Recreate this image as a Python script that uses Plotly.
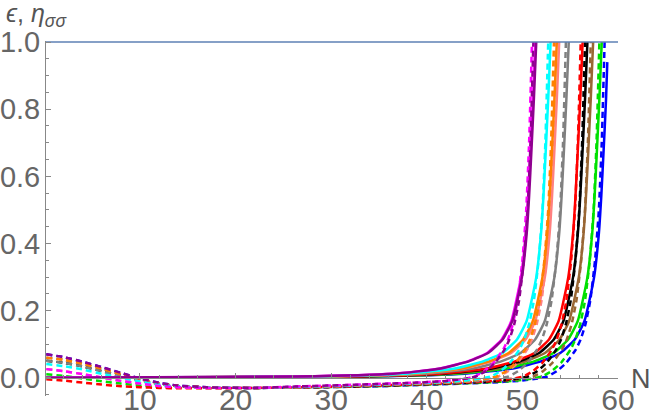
import plotly.graph_objects as go

# horizontal reference line at 1
one_n = [0.17, 60]
one_y = [1.0, 1.0]

# epsilon (solid) values, shared profile
eps_vals = [0.0, 0.002, 0.004, 0.012, 0.028, 0.05, 0.075, 0.115, 0.17, 0.3, 0.43, 0.54, 0.68, 0.83, 1.0]
eps_vals_blue = [0.0, 0.002, 0.004, 0.012, 0.028, 0.05, 0.075, 0.115, 0.17, 0.3, 0.43, 0.54, 0.68, 0.83, 0.94]

eps_n_purple = [0.2, 11.45, 26.45, 36.45, 41.45, 44.45, 46.45, 47.95, 48.95, 49.95, 50.45, 50.7, 50.95, 51.2, 51.45]
eps_n_magenta = [0.2, 11.35, 26.35, 36.35, 41.35, 44.35, 46.35, 47.85, 48.85, 49.85, 50.35, 50.6, 50.85, 51.1, 51.35]
eps_n_cyan = [0.2, 12.95, 27.95, 37.95, 42.95, 45.95, 47.95, 49.45, 50.45, 51.45, 51.95, 52.2, 52.45, 52.7, 52.95]
eps_n_orange = [0.2, 13.6, 28.6, 38.6, 43.6, 46.6, 48.6, 50.1, 51.1, 52.1, 52.6, 52.85, 53.1, 53.35, 53.6]
eps_n_pink = [0.2, 13.85, 28.85, 38.85, 43.85, 46.85, 48.85, 50.35, 51.35, 52.35, 52.85, 53.1, 53.35, 53.6, 53.85]
eps_n_gray = [0.2, 14.85, 29.85, 39.85, 44.85, 47.85, 49.85, 51.35, 52.35, 53.35, 53.85, 54.1, 54.35, 54.6, 54.85]
eps_n_red = [0.2, 16.3, 31.3, 41.3, 46.3, 49.3, 51.3, 52.8, 53.8, 54.8, 55.3, 55.55, 55.8, 56.05, 56.3]
eps_n_black = [0.2, 16.8, 31.8, 41.8, 46.8, 49.8, 51.8, 53.3, 54.3, 55.3, 55.8, 56.05, 56.3, 56.55, 56.8]
eps_n_brown = [0.2, 17.4, 32.4, 42.4, 47.4, 50.4, 52.4, 53.9, 54.9, 55.9, 56.4, 56.65, 56.9, 57.15, 57.4]
eps_n_green = [0.2, 18.3, 33.3, 43.3, 48.3, 51.3, 53.3, 54.8, 55.8, 56.8, 57.3, 57.55, 57.8, 58.05, 58.3]
eps_n_blue = [0.2, 19.0, 34.0, 44.0, 49.0, 52.0, 54.0, 55.5, 56.5, 57.5, 58.0, 58.25, 58.5, 58.75, 58.88]

# eta_sigma sigma (dashed): early part, then the rise
eta_n_early = [0.2, 2, 4, 6, 8, 10, 12, 14, 17, 22]
eta_early_a = [0.070, 0.062, 0.048, 0.032, 0.015, -0.002, -0.015, -0.023, -0.028, -0.030]
eta_early_b = [0.060, 0.054, 0.042, 0.027, 0.011, -0.004, -0.016, -0.024, -0.028, -0.030]
eta_early_c = [0.051, 0.045, 0.034, 0.020, 0.006, -0.007, -0.018, -0.025, -0.029, -0.030]
eta_early_d = [0.041, 0.035, 0.025, 0.012, 0.000, -0.011, -0.020, -0.026, -0.029, -0.030]
eta_early_e = [0.026, 0.020, 0.011, 0.001, -0.009, -0.017, -0.024, -0.028, -0.030, -0.030]
eta_early_f = [0.011, 0.006, -0.002, -0.010, -0.017, -0.023, -0.027, -0.029, -0.030, -0.030]
eta_early_g = [-0.004, -0.008, -0.014, -0.020, -0.025, -0.028, -0.030, -0.031, -0.031, -0.030]

eta_rise = [-0.026, -0.020, -0.014, -0.009, -0.002, 0.004, 0.020, 0.045, 0.085, 0.115, 0.16, 0.23, 0.35, 0.50, 0.70, 1.0]

eta_n_purple = [26.15, 33.15, 39.15, 42.15, 44.15, 45.15, 46.15, 47.15, 48.15, 48.65, 49.15, 49.65, 50.15, 50.55, 50.85, 51.15]
eta_n_magenta = [26.0, 33.0, 39.0, 42.0, 44.0, 45.0, 46.0, 47.0, 48.0, 48.5, 49.0, 49.5, 50.0, 50.4, 50.7, 51.0]
eta_n_cyan = [27.7, 34.7, 40.7, 43.7, 45.7, 46.7, 47.7, 48.7, 49.7, 50.2, 50.7, 51.2, 51.7, 52.1, 52.4, 52.7]
eta_n_orange = [28.3, 35.3, 41.3, 44.3, 46.3, 47.3, 48.3, 49.3, 50.3, 50.8, 51.3, 51.8, 52.3, 52.7, 53.0, 53.3]
eta_n_pink = [28.5, 35.5, 41.5, 44.5, 46.5, 47.5, 48.5, 49.5, 50.5, 51.0, 51.5, 52.0, 52.5, 52.9, 53.2, 53.5]
eta_n_gray = [29.55, 36.55, 42.55, 45.55, 47.55, 48.55, 49.55, 50.55, 51.55, 52.05, 52.55, 53.05, 53.55, 53.95, 54.25, 54.55]
eta_n_red = [31.1, 38.1, 44.1, 47.1, 49.1, 50.1, 51.1, 52.1, 53.1, 53.6, 54.1, 54.6, 55.1, 55.5, 55.8, 56.1]
eta_n_black = [31.55, 38.55, 44.55, 47.55, 49.55, 50.55, 51.55, 52.55, 53.55, 54.05, 54.55, 55.05, 55.55, 55.95, 56.25, 56.55]
eta_n_brown = [32.15, 39.15, 45.15, 48.15, 50.15, 51.15, 52.15, 53.15, 54.15, 54.65, 55.15, 55.65, 56.15, 56.55, 56.85, 57.15]
eta_n_green = [33.05, 40.05, 46.05, 49.05, 51.05, 52.05, 53.05, 54.05, 55.05, 55.55, 56.05, 56.55, 57.05, 57.45, 57.75, 58.05]
eta_n_blue = [33.6, 40.6, 46.6, 49.6, 51.6, 52.6, 53.6, 54.6, 55.6, 56.1, 56.6, 57.1, 57.6, 58.0, 58.3, 58.6]

# drawn back to front (purple ends up on top)
curves = [
    ("blue", "#0000FF", eps_n_blue, eps_vals_blue, eta_n_blue, eta_early_a),
    ("green", "#00E000", eps_n_green, eps_vals, eta_n_green, eta_early_f),
    ("brown", "#996633", eps_n_brown, eps_vals, eta_n_brown, eta_early_b),
    ("black", "#000000", eps_n_black, eps_vals, eta_n_black, eta_early_c),
    ("red", "#FF0000", eps_n_red, eps_vals, eta_n_red, eta_early_g),
    ("gray", "#808080", eps_n_gray, eps_vals, eta_n_gray, eta_early_c),
    ("pink", "#FF8080", eps_n_pink, eps_vals, eta_n_pink, eta_early_e),
    ("orange", "#FF8000", eps_n_orange, eps_vals, eta_n_orange, eta_early_b),
    ("cyan", "#00FFFF", eps_n_cyan, eps_vals, eta_n_cyan, eta_early_d),
    ("magenta", "#FF00FF", eps_n_magenta, eps_vals, eta_n_magenta, eta_early_e),
    ("purple", "#900090", eps_n_purple, eps_vals, eta_n_purple, eta_early_a),
]

fig = go.Figure()

for name, color, eps_n, eps_y, eta_n, eta_early in curves:
    fig.add_trace(go.Scatter(
        x=eps_n, y=eps_y, mode="lines", name=f"eps {name}",
        line=dict(color=color, width=2.5, shape="spline", smoothing=0.5),
    ))
    fig.add_trace(go.Scatter(
        x=eta_n_early + eta_n, y=eta_early + eta_rise, mode="lines", name=f"eta {name}",
        line=dict(color=color, width=2.5, dash="6px,4px", shape="spline", smoothing=0.4),
    ))

fig.add_trace(go.Scatter(x=one_n, y=one_y, mode="lines", name="1",
                         line=dict(color="#5E81B5", width=1.5)))

y_min, y_max = -0.054, 1.003
font_family = "Liberation Sans, Arial, sans-serif"

fig.update_layout(
    width=650, height=419,
    margin=dict(l=46, r=32, t=41, b=23),
    plot_bgcolor="white", paper_bgcolor="white",
    showlegend=False,
    xaxis=dict(
        range=[0.17, 60], anchor="free", position=(0 - y_min) / (y_max - y_min),
        automargin=False, ticklabelstandoff=-5,
        showgrid=False, zeroline=False, showline=True, linecolor="#888888", linewidth=1,
        ticks="inside", ticklen=5, tickcolor="#888888", dtick=10, tick0=0,
        tickfont=dict(family=font_family, size=30, color="#666666"),
        minor=dict(ticks="inside", ticklen=3, tickcolor="#888888", dtick=2, showgrid=False),
    ),
    yaxis=dict(
        range=[y_min, y_max], automargin=False, ticklabelstandoff=-1,
        showgrid=False, zeroline=False, showline=True, linecolor="#888888", linewidth=1,
        ticks="inside", ticklen=5, tickcolor="#888888", dtick=0.2, tick0=0,
        tickformat=".1f", tickfont=dict(family=font_family, size=29, color="#666666"),
        minor=dict(ticks="inside", ticklen=3, tickcolor="#888888", dtick=0.05, showgrid=False),
    ),
    annotations=[
        dict(text="<i>ϵ</i>, <i>η</i><sub><i>σσ</i></sub>", xref="paper", yref="paper",
             x=-0.074, y=1.072, xanchor="left", yanchor="middle", showarrow=False,
             font=dict(family=font_family, size=25, color="#555555")),
        dict(text="N", xref="paper", yref="y", x=1.02, y=-0.003,
             xanchor="left", yanchor="middle", showarrow=False,
             font=dict(family=font_family, size=27, color="#555555")),
    ],
)

# the page body has a default 8px margin; drop it so the figure sits at the corner
fig.write_html(
    "out.html",
    config={"displayModeBar": False},
    post_script="document.body.style.margin='0';document.body.style.overflow='hidden';",
)
